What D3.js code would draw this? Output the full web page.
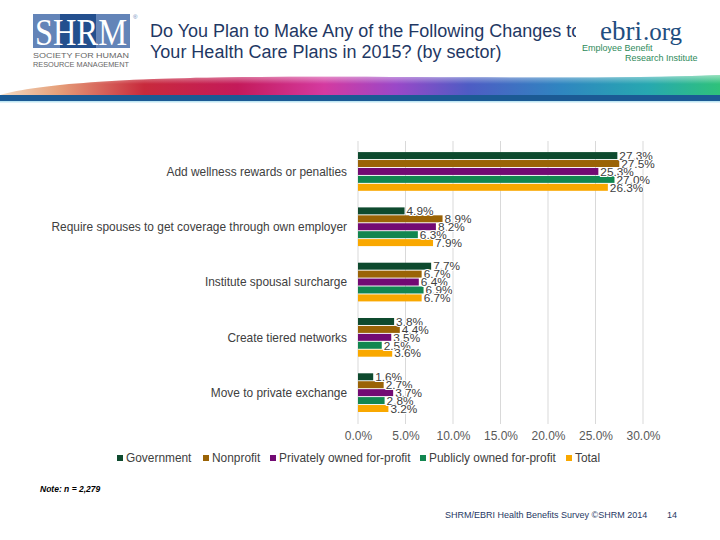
<!DOCTYPE html>
<html><head><meta charset="utf-8">
<script src="https://cdn.jsdelivr.net/npm/d3@7"></script>
<style>body{margin:0;background:#fff}svg{display:block;font-family:"Liberation Sans",Arial,sans-serif}</style>
</head><body>
<svg id="c" width="720" height="540"></svg>
<script>
const categories = ["Add wellness rewards or penalties","Require spouses to get coverage through own employer","Institute spousal surcharge","Create tiered networks","Move to private exchange"];
const seriesNames = ["Government","Nonprofit","Privately owned for-profit","Publicly owned for-profit","Total"];
const government = [27.3, 4.9, 7.7, 3.8, 1.6];
const nonprofit = [27.5, 8.9, 6.7, 4.4, 2.7];
const privatelyOwned = [25.3, 8.2, 6.4, 3.5, 3.7];
const publiclyOwned = [27.0, 6.3, 6.9, 2.5, 2.8];
const total = [26.3, 7.9, 6.7, 3.6, 3.2];
const tickValues = [0, 5, 10, 15, 20, 25, 30];
const colors = ["#0E4A2E","#9A6306","#720A73","#128650","#F9A800"];
const seriesValues = [government, nonprofit, privatelyOwned, publiclyOwned, total];

const svg = d3.select("#c");
const defs = svg.append("defs");

// header swoosh
const g1 = defs.append("linearGradient").attr("id","sw").attr("x1","0").attr("x2","1").attr("y1","0").attr("y2","0");
[[0,"#f3dcc4"],[0.08,"#e6a07a"],[0.2,"#c82a3c"],[0.33,"#c41a5a"],[0.45,"#d43aa0"],[0.55,"#9a48c8"],[0.65,"#4e5cc4"],[0.78,"#2f86c0"],[0.9,"#27a8b0"],[1,"#2fc27a"]]
  .forEach(s=>g1.append("stop").attr("offset",s[0]).attr("stop-color",s[1]));
const g2 = defs.append("linearGradient").attr("id","sw2").attr("x1","0").attr("x2","0").attr("y1","0").attr("y2","1");
g2.append("stop").attr("offset",0).attr("stop-color","#fff").attr("stop-opacity",0.5);
g2.append("stop").attr("offset",0.45).attr("stop-color","#fff").attr("stop-opacity",0);
svg.append("path").attr("d","M0,95 C40,84 120,78 260,77 C420,76 600,80 720,75 L720,95 Z").attr("fill","url(#sw)");
svg.append("path").attr("d","M0,95 C40,84 120,78 260,77 C420,76 600,80 720,75 L720,95 Z").attr("fill","url(#sw2)");
svg.append("rect").attr("x",0).attr("y",95).attr("width",720).attr("height",6).attr("fill","#1B5A94");
svg.append("rect").attr("x",0).attr("y",101).attr("width",720).attr("height",1.5).attr("fill","#bfe6f2");

// SHRM logo
svg.append("rect").attr("x",33).attr("y",14).attr("width",97).attr("height",34).attr("fill","#6384B8");
svg.append("rect").attr("x",60).attr("y",14).attr("width",36).attr("height",34).attr("fill","#234F8E");
svg.append("text").attr("x",81).attr("y",45).attr("text-anchor","middle").attr("fill","#fff")
  .attr("font-family","Liberation Serif, serif").attr("font-size",37).attr("textLength",92).attr("lengthAdjust","spacingAndGlyphs").text("SHRM");
svg.append("text").attr("x",133).attr("y",19).attr("font-size",6).attr("fill","#6384B8").text("®");
svg.append("text").attr("x",33).attr("y",58).attr("font-size",7.5).attr("fill","#666").attr("textLength",96).attr("lengthAdjust","spacingAndGlyphs").text("SOCIETY FOR HUMAN");
svg.append("text").attr("x",33).attr("y",67).attr("font-size",7.5).attr("fill","#666").attr("textLength",96).attr("lengthAdjust","spacingAndGlyphs").text("RESOURCE MANAGEMENT");

// title
defs.append("clipPath").attr("id","tc").append("rect").attr("x",0).attr("y",0).attr("width",576).attr("height",70);
const title = svg.append("g").attr("clip-path","url(#tc)");
title.append("text").attr("x",150).attr("y",37).attr("font-size",18).attr("fill","#1F3864").text("Do You Plan to Make Any of the Following Changes to");
title.append("text").attr("x",150).attr("y",58).attr("font-size",18).attr("fill","#1F3864").text("Your Health Care Plans in 2015? (by sector)");

// ebri logo
svg.append("text").attr("x",600).attr("y",40).attr("font-family","Liberation Serif, serif").attr("font-size",27).attr("fill","#1F4E80").text("ebri");
svg.append("text").attr("x",643).attr("y",40).attr("font-family","Liberation Serif, serif").attr("font-size",25).attr("fill","#1F4E80").text(".org");
svg.append("text").attr("x",582).attr("y",51).attr("font-size",9).attr("fill","#2E8A5A").text("Employee Benefit");
svg.append("text").attr("x",625).attr("y",61).attr("font-size",9).attr("fill","#2E8A5A").text("Research Institute");

// chart
const x = d3.scaleLinear().domain([0,30]).range([358,643]);
const y = d3.scaleBand().domain(categories).range([143.8,420.3]).paddingInner(0.3).paddingOuter(0.15);
const ys = d3.scaleBand().domain(seriesNames).range([0,y.bandwidth()]).paddingInner(0.12);

// gridlines
svg.append("g").selectAll("line").data(tickValues).join("line")
  .attr("x1",d=>x(d)).attr("x2",d=>x(d)).attr("y1",141).attr("y2",424)
  .attr("stroke","#d9d9d9").attr("stroke-width",1);

// axis labels
const ax = svg.append("g").attr("transform","translate(0,428)")
  .call(d3.axisBottom(x).tickValues(tickValues).tickSize(0).tickFormat(d=>d3.format(".1f")(d)+"%"));
ax.select(".domain").remove();
ax.selectAll("text").attr("font-size",12).attr("fill","#595959").attr("font-family","Liberation Sans, Arial, sans-serif");

// category labels
svg.append("g").selectAll("text").data(categories).join("text")
  .attr("x",347).attr("y",d=>y(d)+y.bandwidth()/2).attr("dy","0.35em")
  .attr("text-anchor","end").attr("font-size",11.9).attr("fill","#404040").text(d=>d);

// bars
const groups = svg.append("g").selectAll("g").data(seriesNames).join("g").attr("fill",(d,i)=>colors[i]);
groups.selectAll("rect").data((s,i)=>categories.map((c,j)=>({c,s,v:seriesValues[i][j]}))).join("rect")
  .attr("x",x(0)).attr("y",d=>y(d.c)+ys(d.s)).attr("height",ys.bandwidth())
  .attr("width",d=>x(d.v)-x(0));

// value labels
const lbl = svg.append("g");
seriesNames.forEach((s,i)=>{
  categories.forEach((c,j)=>{
    const v = seriesValues[i][j];
    lbl.append("text").attr("x",x(v)+2).attr("y",y(c)+ys(s)+ys.bandwidth()/2).attr("dy","0.36em")
      .attr("font-size",11.8).attr("fill","#404040").attr("stroke","#fff").attr("stroke-width",2)
      .attr("paint-order","stroke").text(d3.format(".1f")(v)+"%");
  });
});

// legend
const legX = [117,203,270,420,566];
const leg = svg.append("g");
seriesNames.forEach((s,i)=>{
  leg.append("rect").attr("x",legX[i]).attr("y",455).attr("width",6).attr("height",6).attr("fill",colors[i]);
  leg.append("text").attr("x",legX[i]+9).attr("y",458).attr("dy","0.35em").attr("font-size",11.9).attr("fill","#404040").text(s);
});

// note & footer
svg.append("text").attr("x",40).attr("y",492).attr("font-size",8.5).attr("font-weight","bold").attr("font-style","italic").attr("fill","#000").text("Note: n = 2,279");
svg.append("text").attr("x",445).attr("y",518).attr("font-size",9).attr("fill","#1F3864").text("SHRM/EBRI Health Benefits Survey ©SHRM 2014");
svg.append("text").attr("x",667).attr("y",518).attr("font-size",9).attr("fill","#1F3864").text("14");
</script>
</body></html>
